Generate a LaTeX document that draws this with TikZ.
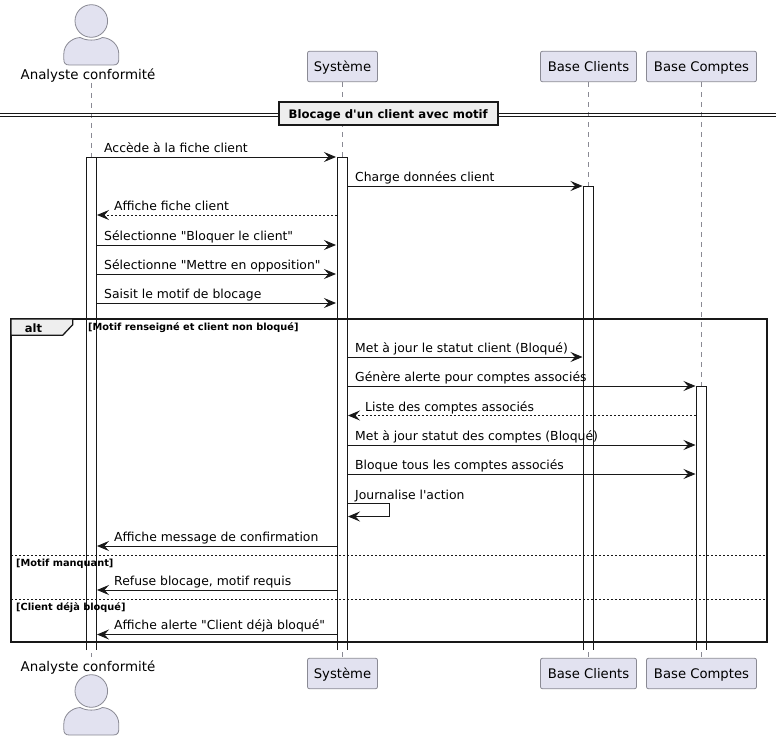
\documentclass[tikz,border=0pt]{standalone}
\usepackage{fontspec}
\newfontfamily\diagfont{DejaVu Sans}
\usetikzlibrary{arrows.meta}
\definecolor{partfill}{HTML}{E2E2F0}
\definecolor{partline}{HTML}{8A8A94}
\definecolor{framefill}{HTML}{EEEEEE}
\definecolor{inkline}{HTML}{181818}
\tikzset{
  part/.style={draw=partline,fill=partfill,rounded corners=2pt,line width=0.8pt,minimum height=30.5pt,inner sep=0pt,text height=10pt,text depth=0pt,font=\diagfont\fontsize{13.2}{15}\selectfont,text=black},
  actorlab/.style={anchor=base,inner sep=0pt,font=\diagfont\fontsize{13.4}{15}\selectfont,text=black},
  lab/.style={anchor=base west,inner sep=0pt,font=\diagfont\fontsize{12.4}{14}\selectfont,text=black},
  cond/.style={anchor=base west,inner sep=0pt,font=\diagfont\bfseries\fontsize{9.8}{11}\selectfont,text=black},
  lifeline/.style={partline,line width=0.6pt,dash pattern=on 5pt off 5pt},
  msg/.style={inkline,line width=0.9pt,-{Stealth[length=12pt,width=10pt,inset=4.5pt]}},
  ret/.style={msg,dash pattern=on 2pt off 2pt},
  bar/.style={inkline,line width=0.9pt},
  actorfig/.pic={
    \draw[partline,fill=partfill,line width=0.8pt] (0,0) circle (16.3);
    \draw[partline,fill=partfill,line width=0.8pt] (-27.5,38) -- (-27.5,33) .. controls (-27.5,24) and (-20,17) .. (-11,16.5)
      .. controls (-5,20) and (5,20) .. (11,16.5) .. controls (20,17) and (27.5,24) .. (27.5,33) -- (27.5,38)
      .. controls (27.5,42) and (26,44) .. (22,44) -- (-22,44) .. controls (-26,44) and (-27.5,42) .. (-27.5,38) -- cycle;
  }
}
\begin{document}
\begin{tikzpicture}[x=1pt,y=-1pt]
\useasboundingbox (0,0) rectangle (782,741);
\fill[white] (0,0) rectangle (782,741);
\pic at (91.3,21) {actorfig};
\pic at (91.3,691) {actorfig};
\draw (88,79.3) node[actorlab] (anaTop) {Analyste conformité};
\draw (88,671.7) node[actorlab] (anaBot) {Analyste conformité};
\draw (342.5,66.5) node[part,minimum width=70pt] (sysTop) {Système};
\draw (342.5,673.5) node[part,minimum width=70pt] (sysBot) {Système};
\draw (588.5,66.5) node[part,minimum width=96pt] (cliTop) {Base Clients};
\draw (588.5,673.5) node[part,minimum width=96pt] (cliBot) {Base Clients};
\draw (701.5,66.5) node[part,minimum width=110pt] (comTop) {Base Comptes};
\draw (701.5,673.5) node[part,minimum width=110pt] (comBot) {Base Comptes};
\coordinate (anaA) at (91.3,83);
\coordinate (anaB) at (91.3,657);
\draw[lifeline] (anaA) -- (anaB);
\draw[lifeline] (sysTop) -- (sysBot);
\draw[lifeline] (cliTop) -- (cliBot);
\draw[lifeline] (comTop) -- (comBot);
\draw[inkline,line width=0.9pt] (0,113) -- (776,113);
\draw[inkline,line width=0.9pt] (0,116) -- (776,116);
\draw (388.2,113.75) node[draw=inkline,fill=framefill,line width=2pt,minimum width=219.4pt,minimum height=22.5pt,inner sep=0pt,text height=8.6pt,text depth=0pt,font=\diagfont\bfseries\fontsize{11.7}{13}\selectfont] (title) {Blocage d'un client avec motif};
\fill[white] (86.5,157) rectangle (96.5,650);
\draw[bar] (86.5,650) -- (86.5,157) -- (96.5,157) -- (96.5,650);
\fill[white] (337.5,157) rectangle (347.5,650);
\draw[bar] (337.5,650) -- (337.5,157) -- (347.5,157) -- (347.5,650);
\fill[white] (583.5,186) rectangle (593.5,650);
\draw[bar] (583.5,650) -- (583.5,186) -- (593.5,186) -- (593.5,650);
\fill[white] (696.5,386) rectangle (706.5,650);
\draw[bar] (696.5,650) -- (696.5,386) -- (706.5,386) -- (706.5,650);
\draw[inkline,line width=2pt] (11,319) rectangle (766.7,642.3);
\draw[inkline,fill=framefill,line width=1.3pt] (11,319) -- (72.7,319) -- (72.7,324.7) -- (62.7,335.3) -- (11,335.3) -- cycle;
\draw (33.5,332) node[anchor=base,inner sep=0pt,font=\diagfont\bfseries\fontsize{11.5}{13}\selectfont] (altTag) {alt};
\draw (88,330.7) node[cond] (c1) {[Motif renseigné et client non bloqué]};
\draw (16,566.7) node[cond] (c2) {[Motif manquant]};
\draw (16,610.3) node[cond] (c3) {[Client déjà bloqué]};
\coordinate (sepAa) at (11,555);
\coordinate (sepAb) at (766.7,555);
\coordinate (sepBa) at (11,599);
\coordinate (sepBb) at (766.7,599);
\draw[inkline,line width=0.7pt,dash pattern=on 2pt off 2pt] (sepAa) -- (sepAb);
\draw[inkline,line width=0.7pt,dash pattern=on 2pt off 2pt] (sepBa) -- (sepBb);
\coordinate (a1) at (96.5,157); \coordinate (b1) at (336,157); \draw[msg] (a1) -- (b1);
\draw (104,152.3) node[lab] (t1) {Accède à la fiche client};
\coordinate (a2) at (347.5,186); \coordinate (b2) at (582.5,186); \draw[msg] (a2) -- (b2);
\draw (355,181.6) node[lab] (t2) {Charge données client};
\coordinate (a3) at (336.5,215); \coordinate (b3) at (97,215); \draw[ret] (a3) -- (b3);
\draw (114,210.8) node[lab] (t3) {Affiche fiche client};
\coordinate (a4) at (96.5,245); \coordinate (b4) at (336,245); \draw[msg] (a4) -- (b4);
\draw (104,240.3) node[lab] (t4) {Sélectionne "Bloquer le client"};
\coordinate (a5) at (96.5,274); \coordinate (b5) at (336,274); \draw[msg] (a5) -- (b5);
\draw (104,269.6) node[lab] (t5) {Sélectionne "Mettre en opposition"};
\coordinate (a6) at (96.5,303); \coordinate (b6) at (336,303); \draw[msg] (a6) -- (b6);
\draw (104,298.8) node[lab] (t6) {Saisit le motif de blocage};
\coordinate (a7) at (347.5,357); \coordinate (b7) at (582.5,357); \draw[msg] (a7) -- (b7);
\draw (355,352.8) node[lab] (t7) {Met à jour le statut client (Bloqué)};
\coordinate (a8) at (347.5,386); \coordinate (b8) at (695.5,386); \draw[msg] (a8) -- (b8);
\draw (355,381.8) node[lab] (t8) {Génère alerte pour comptes associés};
\coordinate (a9) at (695.5,415.5); \coordinate (b9) at (348,415.5); \draw[ret] (a9) -- (b9);
\draw (365,411) node[lab] (t9) {Liste des comptes associés};
\coordinate (a10) at (347.5,445); \coordinate (b10) at (695.5,445); \draw[msg] (a10) -- (b10);
\draw (355,440.3) node[lab] (t10) {Met à jour statut des comptes (Bloqué)};
\coordinate (a11) at (347.5,474); \coordinate (b11) at (695.5,474); \draw[msg] (a11) -- (b11);
\draw (355,469.6) node[lab] (t11) {Bloque tous les comptes associés};
\coordinate (a12) at (347.5,503.5); \coordinate (b12) at (348,516.5); \draw[msg] (a12) -- (389.5,503.5) -- (389.5,516.5) -- (b12);
\draw (355,499) node[lab] (t12) {Journalise l'action};
\coordinate (a13) at (337,546); \coordinate (b13) at (97,546); \draw[msg] (a13) -- (b13);
\draw (114,541.3) node[lab] (t13) {Affiche message de confirmation};
\coordinate (a14) at (337,590); \coordinate (b14) at (97,590); \draw[msg] (a14) -- (b14);
\draw (114,585.3) node[lab] (t14) {Refuse blocage, motif requis};
\coordinate (a15) at (337,634.5); \coordinate (b15) at (97,634.5); \draw[msg] (a15) -- (b15);
\draw (114,629.7) node[lab] (t15) {Affiche alerte "Client déjà bloqué"};
\end{tikzpicture}
\end{document}
